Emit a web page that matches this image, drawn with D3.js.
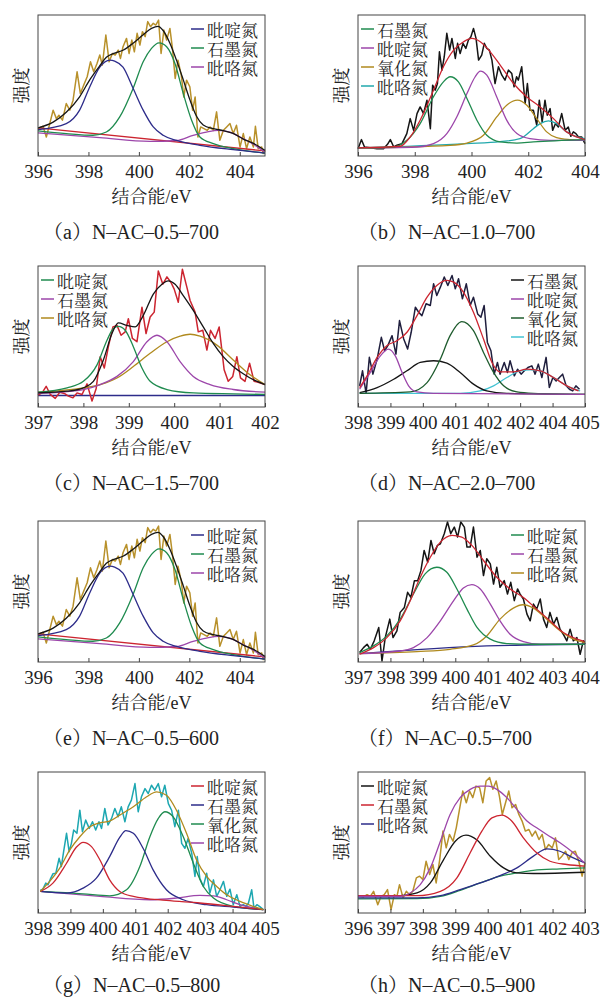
<!DOCTYPE html>
<html>
<head>
<meta charset="utf-8">
<script src="https://cdn.jsdelivr.net/npm/d3@7"></script>
<style>
  body { margin: 0; background: #fff; }
  svg { display: block; }
</style>
</head>
<body>
<div id="chart"></div>
<script>
// ---- labels ----
const namesA = ["吡啶氮", "石墨氮", "吡咯氮"];
const namesB = ["石墨氮", "吡啶氮", "氧化氮", "吡咯氮"];
const namesC = ["吡啶氮", "石墨氮", "吡咯氮"];
const namesD = ["石墨氮", "吡啶氮", "氧化氮", "吡咯氮"];
const namesF = ["吡啶氮", "石墨氮", "吡咯氮"];
const namesG = ["吡啶氮", "石墨氮", "氧化氮", "吡咯氮"];
const namesH = ["吡啶氮", "石墨氮", "吡咯氮"];
const captions = ["（a）N–AC–0.5–700", "（b）N–AC–1.0–700", "（c）N–AC–1.5–700", "（d）N–AC–2.0–700",
                  "（e）N–AC–0.5–600", "（f）N–AC–0.5–700", "（g）N–AC–0.5–800", "（h）N–AC–0.5–900"];
const ticks396to405 = [396, 398, 400, 402, 404];
const ticks396to404 = [396, 398, 400, 402, 404];
const ticks397to402 = [397, 398, 399, 400, 401, 402];
const ticks398to405 = [398, 399, 400, 401, 402, 403, 404, 405];
const labelsD = ["398", "399", "400", "401", "402", "402", "404", "405"];
const ticks397to404 = [397, 398, 399, 400, 401, 402, 403, 404];
const ticks396to403 = [396, 397, 398, 399, 400, 401, 402, 403];

// ---- (a) and (e): binding energy (eV), intensity (0-100 of the frame) ----
const aRaw = [[396.00,19.4],[396.20,21.1],[396.33,13.5],[396.46,22.5],[396.60,32.5],[396.73,26.5],[396.83,28.9],[396.97,25.4],[397.12,37.2],[397.26,32.5],[397.39,39.6],[397.55,59.7],[397.68,44.3],[397.81,50.2],[397.95,56.2],[398.08,66.8],[398.21,59.7],[398.34,65.6],[398.45,71.6],[398.55,64.5],[398.69,85.8],[398.82,66.8],[398.95,72.7],[399.06,71.6],[399.18,75.1],[399.27,69.2],[399.37,77.5],[399.51,83.4],[399.61,72.7],[399.72,82.2],[399.82,73.9],[399.93,87.0],[400.04,78.7],[400.14,88.2],[400.25,84.6],[400.35,95.3],[400.46,91.7],[400.57,94.1],[400.67,92.9],[400.78,96.4],[400.88,72.7],[400.99,89.3],[401.10,82.2],[401.23,90.5],[401.33,76.3],[401.44,55.0],[401.55,68.0],[401.68,57.3],[401.78,41.9],[401.89,53.8],[402.02,49.1],[402.13,32.5],[402.23,41.9],[402.34,13.5],[402.45,20.6],[402.58,19.4],[402.71,18.2],[402.82,20.6],[402.95,18.2],[403.08,31.3],[403.21,11.1],[403.35,18.2],[403.48,20.6],[403.61,23.0],[403.74,15.9],[403.87,21.8],[404.01,6.4],[404.14,15.9],[404.27,5.2],[404.40,13.5],[404.54,6.4],[404.62,21.1],[404.73,5.2],[404.87,6.4],[404.93,1.7],[405.00,4.0]];
const aEnv = [[396.00,19.9],[396.60,24],[397.12,31],[397.65,42],[398.05,54],[398.45,64],[398.71,70],[399.04,73],[399.37,75],[399.77,80],[400.17,86],[400.50,90.5],[400.76,92],[400.96,89],[401.23,80],[401.49,68],[401.76,54],[402.02,40],[402.29,28],[402.55,22],[402.95,19.4],[403.35,18],[403.74,16],[404.14,12],[404.54,9],[405.00,4]];
const aPyridinic = [[396.00,18.7],[397.12,23],[397.65,32.5],[398.05,49],[398.45,63],[398.85,68],[399.04,67.3],[399.37,63],[399.77,48],[400.17,32.5],[400.57,20.6],[400.96,14.7],[401.49,11],[402.42,7.6],[403.74,4.5],[405.00,2.1]];
const aGraphitic = [[396.00,17.8],[397.12,15.9],[398.18,14.7],[398.71,17],[399.24,27.7],[399.77,47.9],[400.17,66.8],[400.50,76.3],[400.80,80.3],[401.10,77.5],[401.43,65.6],[401.76,44.3],[402.09,25.4],[402.42,13.5],[402.95,8.8],[403.74,5.2],[405.00,2.1]];
const aPyrrolic = [[396.00,16.4],[398.45,13],[400.43,10.4],[401.49,11],[402.15,14.7],[402.68,17],[403.15,18.2],[403.61,17],[404.01,13.5],[404.54,8.3],[405.00,2.8]];
const aBase = [[396.00,19.9],[405.00,3.6]];

// ---- (b) ----
const bRaw = [[396.00,5.2],[396.12,11.6],[396.23,6.4],[396.43,5.9],[396.67,5.2],[396.90,5.2],[397.04,8.3],[397.14,11.6],[397.26,6.4],[397.37,7.6],[397.55,8.8],[397.72,15.9],[397.84,26.5],[397.96,18.2],[398.08,30.1],[398.19,34.8],[398.31,30.1],[398.43,39.6],[398.55,19.4],[398.63,50.2],[398.72,46.7],[398.80,51.4],[398.87,73.9],[398.96,60.9],[399.04,70.4],[399.13,87.0],[399.23,75.1],[399.31,83.4],[399.43,69.2],[399.51,79.9],[399.60,72.7],[399.70,79.9],[399.80,76.3],[399.89,82.2],[399.98,84.6],[400.07,90.5],[400.16,83.4],[400.25,68.0],[400.36,71.6],[400.45,79.9],[400.54,76.3],[400.63,75.1],[400.72,68.0],[400.83,51.4],[400.95,63.3],[401.07,57.3],[401.18,53.8],[401.30,60.9],[401.42,58.5],[401.50,49.1],[401.59,56.2],[401.65,53.8],[401.77,63.3],[401.89,37.2],[401.97,51.4],[402.06,32.5],[402.18,32.5],[402.30,21.8],[402.39,39.6],[402.49,24.2],[402.59,39.6],[402.67,28.9],[402.77,33.6],[402.86,18.2],[402.96,23.0],[403.06,20.6],[403.18,30.1],[403.30,18.2],[403.41,20.6],[403.50,14.0],[403.59,17.1],[403.68,15.9],[403.77,13.5],[403.88,13.5],[404.00,8.8]];
const bEnv = [[396.00,5.7],[397.49,6.9],[397.84,13.5],[398.19,25.4],[398.66,46.7],[399.01,63.3],[399.37,75.1],[399.72,81],[400.01,83.4],[400.31,81],[400.66,73.9],[401.01,64.5],[401.48,51.4],[401.95,41.9],[402.42,34.8],[402.89,26.5],[403.35,17.1],[403.71,13.5],[404.00,11.6]];
const bGraphitic = [[396.00,5.7],[397.26,6.4],[397.72,11.1],[398.19,23],[398.66,42],[399.01,52.6],[399.25,56.2],[399.54,52.6],[399.84,40.8],[400.19,25.4],[400.54,14.7],[401.01,10],[401.60,9.2],[402.18,10],[404.00,11.6]];
const bPyridinic = [[396.00,5.7],[398.08,6.4],[398.66,8.8],[399.13,15.9],[399.48,27.7],[399.84,44.3],[400.13,56.2],[400.31,60.2],[400.54,57.3],[400.89,41.9],[401.24,25.4],[401.60,15.9],[402.06,12.3],[402.77,11.1],[404.00,11.1]];
const bOxidized = [[396.00,5.7],[399.25,7.6],[399.84,9.2],[400.42,14.7],[400.89,27.7],[401.24,36],[401.62,39.6],[401.95,36],[402.30,26.5],[402.65,17.1],[403.00,13],[403.47,11.6],[404.00,11.1]];
const bPyrrolic = [[396.00,5.7],[399.84,8.8],[401.01,10.2],[401.71,12.3],[402.18,19.4],[402.42,23],[402.71,24.9],[403.00,23],[403.35,17.1],[403.71,13.5],[404.00,12.3]];

// ---- (c) ----
const cRaw = [[397.00,8.4],[397.09,10.0],[397.18,14.7],[397.27,8.9],[397.38,6.1],[397.48,10.5],[397.58,9.6],[397.67,7.7],[397.77,6.5],[397.86,10.0],[397.97,8.9],[398.08,16.4],[398.19,4.2],[398.28,12.9],[398.37,35.7],[398.46,27.6],[398.55,42.8],[398.65,56.8],[398.74,57.9],[398.83,50.9],[398.92,53.3],[398.99,62.6],[399.08,48.6],[399.18,46.3],[399.29,70.8],[399.38,52.1],[399.47,63.8],[399.56,67.3],[399.65,96.5],[399.75,87.1],[399.84,92.3],[399.93,88.3],[400.00,83.6],[400.09,74.3],[400.18,97.7],[400.28,84.8],[400.35,75.5],[400.46,67.3],[400.53,53.3],[400.63,54.4],[400.72,40.4],[400.80,54.4],[400.90,48.6],[400.99,56.8],[401.10,26.4],[401.19,18.2],[401.29,21.7],[401.38,35.7],[401.46,20.6],[401.56,18.2],[401.66,31.1],[401.76,18.2],[401.85,17.5],[402.00,15.9]];
const cEnv = [[397.00,10],[397.64,11.2],[398.00,13.6],[398.22,18.2],[398.44,33.4],[398.63,52.1],[398.77,59.6],[398.96,57.9],[399.14,56.8],[399.32,65],[399.54,80.1],[399.73,87.1],[399.87,89.5],[400.02,87.1],[400.20,79],[400.42,68.5],[400.64,56.8],[400.86,45.1],[401.08,35.7],[401.30,28.7],[401.52,23.6],[401.74,19.4],[402.00,15.9]];
const cPyridinic = [[397.00,10.5],[397.64,13.6],[398.00,18.2],[398.30,29.9],[398.52,47.4],[398.66,55.6],[398.77,57.2],[398.92,54.4],[399.10,42.8],[399.29,27.6],[399.47,18.2],[399.84,12.4],[400.42,10],[401.30,9.3],[402.00,8.9]];
const cGraphitic = [[397.00,9.6],[398.00,12.4],[398.37,15.9],[398.74,21.7],[399.10,32.2],[399.40,46.3],[399.62,50.9],[399.84,46.3],[400.13,32.2],[400.42,21.7],[400.79,15.9],[401.30,12.4],[402.00,10.5]];
const cPyrrolic = [[397.00,10.5],[398.00,13.6],[398.37,15.9],[398.74,20.6],[399.10,28.7],[399.47,38.1],[399.84,46.3],[400.13,50.2],[400.35,51.6],[400.57,50.2],[400.94,43.9],[401.30,33.4],[401.67,22.9],[402.00,15.9]];
const cBase = [[397.00,8.2],[402.00,8.2]];

// ---- (d) ----
const dRaw = [[398.05,15.0],[398.14,25.7],[398.25,9.7],[398.35,35.2],[398.46,23.3],[398.59,34.0],[398.72,49.4],[398.82,39.9],[398.92,43.5],[399.05,50.6],[399.17,37.5],[399.28,61.3],[399.41,48.2],[399.53,41.1],[399.64,53.0],[399.77,70.8],[399.87,67.2],[399.97,64.8],[400.10,73.2],[400.23,72.0],[400.33,87.4],[400.43,79.1],[400.54,85.0],[400.66,92.2],[400.77,86.2],[400.90,93.3],[401.00,83.8],[401.10,91.0],[401.22,76.7],[401.34,87.4],[401.46,72.0],[401.56,77.9],[401.69,66.0],[401.79,63.7],[401.89,72.0],[401.99,45.8],[402.10,39.9],[402.20,23.3],[402.30,31.6],[402.38,23.3],[402.51,31.6],[402.61,24.5],[402.69,32.8],[402.82,22.1],[402.92,26.8],[403.03,23.3],[403.13,25.7],[403.24,28.0],[403.36,29.2],[403.46,23.3],[403.56,30.4],[403.67,20.9],[403.80,35.2],[403.90,13.8],[404.01,20.9],[404.11,18.5],[404.21,20.9],[404.31,23.3],[404.42,15.0],[404.52,12.6],[404.62,11.4],[404.72,15.0],[404.83,12.6]];
const dEnv = [[398.05,13.8],[398.28,22.1],[398.59,35.2],[398.89,43.5],[399.20,47],[399.51,53],[399.82,64.8],[400.13,77.9],[400.43,86.2],[400.74,89.8],[400.95,88.6],[401.25,81.5],[401.56,67.2],[401.87,48.2],[402.13,31.6],[402.38,24.9],[402.79,24.9],[403.21,26.8],[403.62,25.7],[404.03,20.9],[404.44,15],[404.80,11.4]];
const dPyridinic = [[398.05,12.6],[398.38,24.5],[398.69,36.3],[398.94,41.1],[399.15,36.3],[399.36,24.5],[399.56,15],[399.82,10.7],[400.33,9.7],[405.00,9.0]];
const dGraphitic = [[398.05,10.2],[398.59,13.8],[399.10,19.7],[399.51,25.7],[399.92,31.6],[400.33,32.8],[400.74,31.1],[401.15,24.5],[401.56,16.2],[401.97,11.4],[402.59,9.7],[405.00,9.0]];
const dOxidized = [[398.05,9.7],[399.61,10.7],[400.13,17.3],[400.54,34],[400.84,50.6],[401.20,60.6],[401.56,54.2],[401.87,38.7],[402.18,24.5],[402.49,15],[402.90,10.7],[403.41,9.7],[405.00,9]];
const dPyrrolic = [[398.05,9.7],[401.15,9.7],[401.77,11.4],[402.18,15],[402.59,20.9],[403.00,25.7],[403.31,26.4],[403.62,25.7],[404.03,20.9],[404.44,15],[404.85,11.4]];

// ---- (f) ----
const fRaw = [[397.05,6.7],[397.17,10.2],[397.28,12.6],[397.38,9.0],[397.50,15.0],[397.64,24.5],[397.74,0.7],[397.84,17.3],[397.98,30.4],[398.08,17.3],[398.20,22.1],[398.30,35.2],[398.43,38.7],[398.53,49.4],[398.63,45.8],[398.74,57.7],[398.84,57.7],[398.94,64.8],[399.04,79.1],[399.15,70.8],[399.25,86.2],[399.35,76.7],[399.45,82.7],[399.54,83.8],[399.66,91.0],[399.76,99.3],[399.86,91.0],[399.97,95.7],[400.07,88.6],[400.17,99.3],[400.28,95.7],[400.36,81.5],[400.46,81.5],[400.56,95.7],[400.67,74.3],[400.77,79.1],[400.87,61.3],[400.97,73.2],[401.08,69.6],[401.18,55.3],[401.28,67.2],[401.38,53.0],[401.51,57.7],[401.61,48.2],[401.71,56.5],[401.82,43.5],[401.92,51.8],[402.00,48.2],[402.10,44.7],[402.21,34.0],[402.31,29.2],[402.41,41.1],[402.51,37.5],[402.62,44.7],[402.72,30.4],[402.82,24.5],[402.92,35.2],[403.03,26.8],[403.13,31.6],[403.23,23.3],[403.33,19.7],[403.44,15.0],[403.54,23.3],[403.64,15.0],[403.75,17.3],[403.85,5.5],[403.95,15.0],[404.00,12.6]];
const fEnv = [[397.05,5.5],[397.48,10.2],[397.89,17.3],[398.30,29.2],[398.61,43.5],[398.92,60.1],[399.23,74.3],[399.54,85],[399.90,89.8],[400.20,88.6],[400.51,82.7],[400.87,72],[401.28,60.1],[401.69,51.8],[402.10,45.8],[402.51,37.5],[402.92,29.2],[403.33,20.9],[403.75,16.2],[404.00,14.5]];
const fPyridinic = [[397.05,6.7],[397.48,11.4],[397.89,18.5],[398.30,30.4],[398.71,48.2],[399.07,62.5],[399.43,67.2],[399.74,63.7],[400.05,51.8],[400.36,37.5],[400.67,24.5],[401.08,16.2],[401.59,13.1],[402.41,12.6],[404.00,12.6]];
const fGraphitic = [[397.05,5.9],[398.30,7.8],[398.71,10.2],[399.13,17.3],[399.54,29.2],[399.95,43.5],[400.25,52.5],[400.51,54.9],[400.77,51.8],[401.08,41.1],[401.38,29.2],[401.69,19.7],[402.10,14.5],[402.62,12.6],[404.00,12.6]];
const fPyrrolic = [[397.05,5.9],[398.82,7.4],[399.84,9],[400.56,12.1],[400.97,18.5],[401.38,30.4],[401.79,38.2],[402.08,40.6],[402.41,38.2],[402.82,30.4],[403.23,22.1],[403.64,16.2],[404.00,13.8]];
const fBase = [[397.05,5.9],[400.97,11.4],[404.00,12.6]];

// ---- (g) ----
const gRaw = [[398.07,16.0],[398.15,16.9],[398.24,21.2],[398.31,20.0],[398.38,24.0],[398.46,27.8],[398.55,28.2],[398.65,38.8],[398.72,32.9],[398.79,43.5],[398.88,56.5],[398.96,43.5],[399.03,49.4],[399.10,58.8],[399.20,56.5],[399.29,72.9],[399.37,57.6],[399.47,65.9],[399.58,60.0],[399.68,64.7],[399.78,58.8],[399.88,64.7],[399.96,60.0],[400.06,74.1],[400.16,62.4],[400.27,67.1],[400.37,74.1],[400.47,68.2],[400.57,75.3],[400.68,64.7],[400.78,75.3],[400.88,80.0],[400.99,91.8],[401.09,71.8],[401.19,82.4],[401.30,88.2],[401.40,84.7],[401.50,90.6],[401.60,87.1],[401.71,91.8],[401.81,82.4],[401.91,90.6],[402.02,77.6],[402.12,72.9],[402.22,61.2],[402.33,72.9],[402.43,49.4],[402.53,45.9],[402.63,52.9],[402.74,42.4],[402.84,25.9],[402.91,40.0],[402.99,24.7],[403.10,18.8],[403.20,28.2],[403.30,14.1],[403.41,23.5],[403.51,11.8],[403.61,16.5],[403.72,22.4],[403.82,11.8],[403.92,16.9],[404.02,5.9],[404.13,12.9],[404.23,4.7],[404.33,5.9],[404.42,4.7],[404.49,7.1],[404.59,16.5],[404.66,3.5],[404.75,5.9],[404.83,4.7],[404.95,2.4]];
const gEnv = [[398.07,15.3],[398.36,22.4],[398.67,31.8],[398.98,44.7],[399.29,54.1],[399.60,61.2],[399.91,64],[400.21,65.2],[400.52,69.4],[400.94,75.3],[401.35,82.4],[401.66,85.9],[401.96,83.5],[402.27,72.9],[402.58,56.5],[402.89,37.6],[403.20,25.9],[403.51,18.8],[403.82,12.9],[404.23,8.2],[404.64,4.7],[404.95,2.4]];
const gPyridinic = [[398.07,15.3],[398.46,21.2],[398.88,35.3],[399.18,46.6],[399.39,50.1],[399.65,47.1],[399.91,37.6],[400.21,23.5],[400.52,15.3],[400.94,11.8],[401.96,8.9],[402.99,7.1],[404.02,4.7],[404.95,2.4]];
const gGraphitic = [[398.07,15.3],[398.88,14.1],[399.39,17.6],[399.80,24.7],[400.21,40],[400.52,53.6],[400.71,58.4],[400.94,56.5],[401.24,45.9],[401.55,30.6],[401.96,16.5],[402.48,9.4],[403.20,5.9],[404.02,4.2],[404.95,2.4]];
const gOxidized = [[398.07,15.3],[399.39,13.6],[400.21,12.2],[400.73,16.5],[401.14,32.9],[401.45,54.1],[401.71,67.1],[401.91,71.8],[402.17,68.2],[402.48,54.1],[402.79,35.3],[403.10,18.8],[403.41,10.6],[404.02,4.7],[404.95,2.4]];
const gPyrrolic = [[398.07,15.3],[399.91,11.8],[401.45,9.4],[402.27,10.6],[402.99,12.5],[403.41,12.2],[403.82,9.4],[404.23,5.9],[404.95,2.4]];

// ---- (h) ----
const hRaw = [[396.05,11.8],[396.17,11.4],[396.28,13.0],[396.38,11.8],[396.48,15.4],[396.61,5.9],[396.71,11.8],[396.81,13.0],[396.91,16.6],[397.02,2.4],[397.12,13.0],[397.20,11.8],[397.28,20.1],[397.39,10.7],[397.49,15.4],[397.59,13.0],[397.69,15.4],[397.80,24.9],[397.90,26.1],[398.00,23.7],[398.10,36.7],[398.21,27.3],[398.31,34.4],[398.41,21.3],[398.52,37.9],[398.62,58.1],[398.72,46.2],[398.82,55.7],[398.93,50.9],[399.03,60.4],[399.13,73.5],[399.23,86.5],[399.34,78.2],[399.44,86.5],[399.54,81.8],[399.64,90.0],[399.75,88.9],[399.85,78.2],[399.95,93.6],[400.06,96.0],[400.16,87.7],[400.26,93.6],[400.36,82.9],[400.45,69.9],[400.55,78.2],[400.65,86.5],[400.75,74.6],[400.86,77.0],[400.96,69.9],[401.06,65.2],[401.16,58.1],[401.27,59.2],[401.37,54.5],[401.47,58.1],[401.58,52.1],[401.68,55.7],[401.78,45.0],[401.88,48.6],[401.99,46.2],[402.09,53.3],[402.19,37.9],[402.29,40.3],[402.40,43.8],[402.50,37.9],[402.60,42.7],[402.70,43.8],[402.81,36.7],[402.91,26.1],[403.00,35.5]];
const hEnv = [[396.00,11.8],[397.30,11.8],[397.61,14.2],[397.92,20.1],[398.23,32],[398.54,50.9],[398.84,69.9],[399.15,81.8],[399.46,87.7],[399.77,90],[400.02,90],[400.28,87.7],[400.59,81.8],[400.90,73.5],[401.21,65.2],[401.51,60.4],[401.82,55.7],[402.23,49.8],[402.64,42.7],[403.00,35.1]];
const hPyridinic = [[396.00,12.3],[397.30,12.3],[397.82,14.2],[398.23,21.3],[398.64,37.9],[399.00,50.9],[399.33,55.2],[399.67,51.7],[400.08,40.3],[400.49,32],[400.90,28.4],[401.41,28],[403.00,28.9]];
const hGraphitic = [[396.00,12.3],[397.82,12.3],[398.54,15.4],[399.05,24.9],[399.46,42.7],[399.82,58.1],[400.13,67.5],[400.44,69.4],[400.74,65.2],[401.10,53.3],[401.51,42.7],[401.92,36.7],[402.44,34.4],[403.00,33.2]];
const hPyrrolic = [[396.00,10.7],[397.82,10.7],[398.54,12.3],[399.15,16.6],[399.77,21.3],[400.38,26.5],[400.90,32],[401.41,40.3],[401.82,45.5],[402.23,43.8],[402.64,39.1],[403.00,35.5]];
const hBase = [[396.00,10],[397.82,10.2],[398.54,11.8],[399.15,16.1],[399.77,21.3],[400.38,26.1],[400.90,28.4],[401.41,30.3],[402.23,31.3],[403.00,32]];

// ---- colours ----
const C = {
  gold: "#b8912b", goldFit: "#b08a1e", black: "#151515", navy: "#2d2c8a", green: "#1f8b4f",
  purple: "#9c46aa", red: "#cc2530", teal: "#22a9ad", tealRaw: "#1da7b1", cyan: "#44c3d3",
  dkgreen: "#1f5c2e", dkraw: "#1f1e3d"
};

// each panel: frame slot, axis, curves (drawn in order), legend
const panels = [
  {col: 0, row: 0, domain: [396, 405], ticks: ticks396to405, legendLeft: false,
   curves: [[aRaw, C.gold, 0], [aBase, C.red, 1], [aPyrrolic, C.purple, 1], [aGraphitic, C.green, 1], [aPyridinic, C.navy, 1], [aEnv, C.black, 1]],
   legend: [[namesA[0], C.navy], [namesA[1], C.green], [namesA[2], C.purple]]},
  {col: 1, row: 0, domain: [396, 404], ticks: ticks396to404, legendLeft: true,
   curves: [[bRaw, C.black, 0], [bPyrrolic, C.teal, 1], [bOxidized, C.goldFit, 1], [bPyridinic, C.purple, 1], [bGraphitic, C.green, 1], [bEnv, C.red, 1]],
   legend: [[namesB[0], C.green], [namesB[1], C.purple], [namesB[2], C.goldFit], [namesB[3], C.teal]]},
  {col: 0, row: 1, domain: [397, 402], ticks: ticks397to402, legendLeft: true,
   curves: [[cBase, C.navy, 0], [cRaw, C.red, 0], [cPyrrolic, C.goldFit, 1], [cGraphitic, C.purple, 1], [cPyridinic, C.green, 1], [cEnv, C.black, 1]],
   legend: [[namesC[0], C.green], [namesC[1], C.purple], [namesC[2], C.goldFit]]},
  {col: 1, row: 1, domain: [398, 405], ticks: ticks398to405, labels: labelsD, legendLeft: false,
   curves: [[dRaw, C.dkraw, 0], [dPyrrolic, C.cyan, 1], [dGraphitic, C.black, 1], [dOxidized, C.dkgreen, 1], [dPyridinic, C.purple, 1], [dEnv, C.red, 1]],
   legend: [[namesD[0], C.black], [namesD[1], C.purple], [namesD[2], C.dkgreen], [namesD[3], C.cyan]]},
  {col: 0, row: 2, domain: [396, 405], ticks: ticks396to405, legendLeft: false,
   curves: [[aRaw, C.gold, 0], [aBase, C.red, 1], [aPyrrolic, C.purple, 1], [aGraphitic, C.green, 1], [aPyridinic, C.navy, 1], [aEnv, C.black, 1]],
   legend: [[namesA[0], C.navy], [namesA[1], C.green], [namesA[2], C.purple]]},
  {col: 1, row: 2, domain: [397, 404], ticks: ticks397to404, legendLeft: false,
   curves: [[fRaw, C.black, 0], [fBase, C.navy, 1], [fPyrrolic, C.goldFit, 1], [fGraphitic, C.purple, 1], [fPyridinic, C.green, 1], [fEnv, C.red, 1]],
   legend: [[namesF[0], C.green], [namesF[1], C.purple], [namesF[2], C.goldFit]]},
  {col: 0, row: 3, domain: [398, 405], ticks: ticks398to405, legendLeft: false,
   curves: [[gRaw, C.tealRaw, 0], [gPyrrolic, C.purple, 1], [gOxidized, C.green, 1], [gGraphitic, C.navy, 1], [gPyridinic, C.red, 1], [gEnv, C.goldFit, 1]],
   legend: [[namesG[0], C.red], [namesG[1], C.navy], [namesG[2], C.green], [namesG[3], C.purple]]},
  {col: 1, row: 3, domain: [396, 403], ticks: ticks396to403, legendLeft: true,
   curves: [[hRaw, C.gold, 0], [hBase, C.green, 1], [hPyrrolic, C.navy, 1], [hPyridinic, C.black, 1], [hGraphitic, C.red, 1], [hEnv, C.purple, 1]],
   legend: [[namesH[0], C.black], [namesH[1], C.red], [namesH[2], C.navy]]}
];

// ---- layout ----
const colX = [38, 358], rowY = [15, 266, 521, 772];
const bw = 227, bh = 141;
const latin = '"Liberation Serif", "Noto Serif CJK SC"';
const hanzi = '"Noto Serif CJK SC"';

const svg = d3.select("#chart").append("svg")
    .attr("width", 600)
    .attr("height", 997);

panels.forEach((p, i) => {
    const x0 = colX[p.col], y0 = rowY[p.row];
    const x = d3.scaleLinear().domain(p.domain).range([x0, x0 + bw]);
    const y = d3.scaleLinear().domain([0, 100]).range([y0 + bh, y0]);
    const g = svg.append("g");

    const line = d3.line().x(d => x(d[0])).y(d => y(d[1]));

    p.curves.forEach(([data, color, smooth]) => {
        line.curve(smooth ? d3.curveMonotoneX : d3.curveLinear);
        g.append("path")
            .attr("d", line(data))
            .attr("fill", "none")
            .attr("stroke", color)
            .attr("stroke-width", smooth ? 1.3 : 1.5)
            .attr("stroke-linejoin", "round");
    });

    // frame
    g.append("rect")
        .attr("x", x0).attr("y", y0)
        .attr("width", bw).attr("height", bh)
        .attr("fill", "none")
        .attr("stroke", "#444")
        .attr("stroke-width", 1);

    const xAxis = d3.axisBottom(x)
        .tickValues(p.ticks)
        .tickSizeInner(-4)
        .tickSizeOuter(0)
        .tickPadding(9)
        .tickFormat((d, k) => p.labels ? p.labels[k] : d);
    const ax = g.append("g")
        .attr("transform", `translate(0,${y0 + bh})`)
        .call(xAxis);
    ax.select(".domain").remove();
    ax.selectAll(".tick line").attr("stroke", "#444");
    ax.selectAll(".tick text")
        .attr("font-family", latin)
        .attr("font-size", 19)
        .attr("fill", "#222");

    // legend
    const tx = p.legendLeft ? x0 + 19 : x0 + 169;
    p.legend.forEach(([name, color], k) => {
        const ly = y0 + 14 + k * 19;
        g.append("line")
            .attr("x1", tx - 16).attr("x2", tx - 3)
            .attr("y1", ly).attr("y2", ly)
            .attr("stroke", color).attr("stroke-width", 1.5);
        g.append("text")
            .attr("x", tx).attr("y", ly)
            .attr("dominant-baseline", "central")
            .attr("font-family", hanzi).attr("font-size", 17).attr("fill", "#222")
            .text(name);
    });

    // axis titles
    g.append("text")
        .attr("transform", `translate(${x0 - 18},${y0 + bh / 2}) rotate(-90)`)
        .attr("text-anchor", "middle")
        .attr("dominant-baseline", "central")
        .attr("font-family", hanzi).attr("font-size", 18).attr("fill", "#222")
        .text("强度");
    g.append("text")
        .attr("x", x0 + bw / 2).attr("y", y0 + bh + 41)
        .attr("text-anchor", "middle")
        .attr("dominant-baseline", "central")
        .attr("font-family", latin).attr("font-size", 18).attr("fill", "#222")
        .text("结合能/eV");
    g.append("text")
        .attr("x", p.col === 0 ? 43 : 358).attr("y", y0 + bh + (p.row === 3 ? 72 : 76))
        .attr("dominant-baseline", "central")
        .attr("font-family", latin).attr("font-size", 20).attr("fill", "#222")
        .text(captions[i]);
});
</script>
</body>
</html>
